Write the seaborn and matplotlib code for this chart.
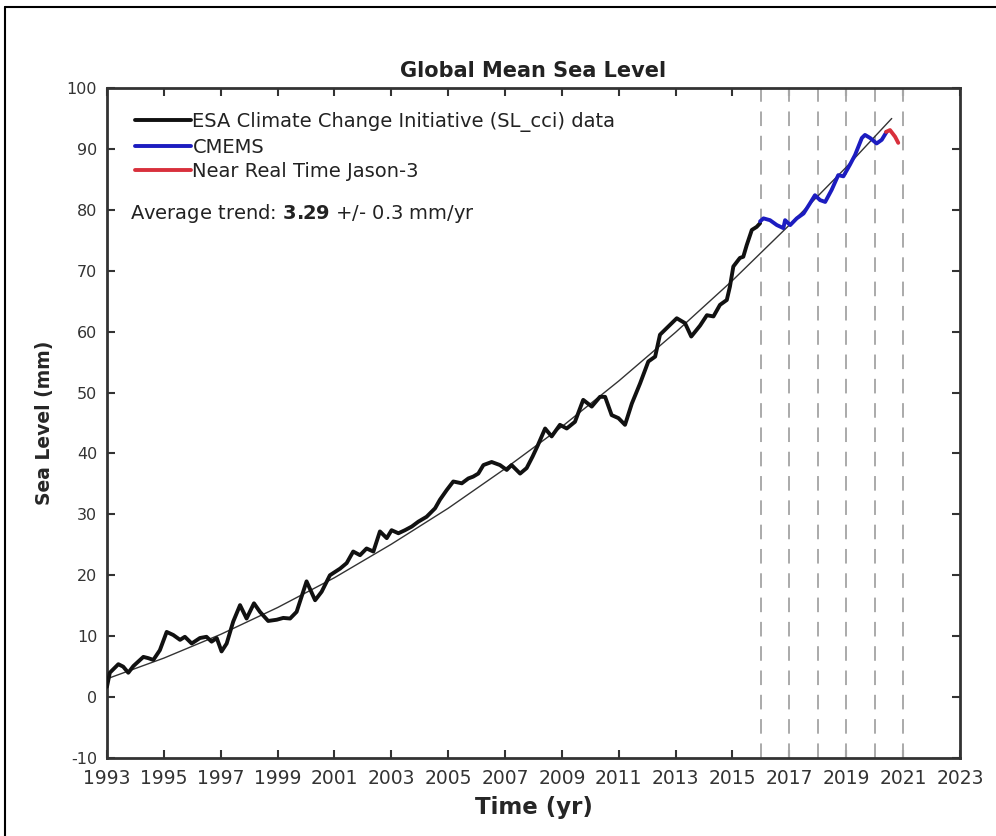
import pandas as pd
import matplotlib
matplotlib.use("Agg")
import matplotlib.pyplot as plt
import seaborn as sns
from matplotlib.lines import Line2D

# ESA CCI record
cci_year = [1993.00, 1993.10, 1993.40, 1993.57, 1993.75, 1993.93, 1994.28, 1994.45, 1994.63, 1994.86,
            1995.10, 1995.33, 1995.57, 1995.74, 1995.98, 1996.27, 1996.50, 1996.68, 1996.86, 1997.03,
            1997.21, 1997.44, 1997.68, 1997.91, 1998.17, 1998.38, 1998.67, 1998.97, 1999.20, 1999.44,
            1999.67, 2000.02, 2000.32, 2000.55, 2000.84, 2001.20, 2001.43, 2001.66, 2001.90, 2002.13,
            2002.37, 2002.60, 2002.84, 2003.01, 2003.25, 2003.48, 2003.72, 2003.95, 2004.24, 2004.54,
            2004.71, 2004.95, 2005.18, 2005.48, 2005.71, 2005.88, 2006.06, 2006.24, 2006.53, 2006.82,
            2007.06, 2007.23, 2007.53, 2007.76, 2007.97, 2008.15, 2008.41, 2008.64, 2008.93, 2009.17,
            2009.46, 2009.75, 2010.05, 2010.34, 2010.52, 2010.75, 2010.99, 2011.22, 2011.46, 2011.75,
            2012.04, 2012.28, 2012.45, 2012.69, 2013.04, 2013.33, 2013.55, 2013.86, 2014.10, 2014.33,
            2014.56, 2014.80, 2014.91, 2015.03, 2015.26, 2015.38, 2015.50, 2015.68, 2015.85, 2015.97]
cci_level = [1.7, 4.0, 5.4, 5.0, 4.0, 5.1, 6.6, 6.4, 6.1, 7.7,
             10.7, 10.2, 9.4, 9.9, 8.8, 9.7, 9.9, 9.1, 9.7, 7.5,
             8.8, 12.4, 15.1, 12.9, 15.4, 14.0, 12.5, 12.7, 13.0, 12.9,
             14.0, 19.0, 15.9, 17.3, 20.0, 21.1, 22.0, 23.9, 23.3, 24.4,
             23.9, 27.2, 26.1, 27.4, 26.9, 27.4, 28.0, 28.8, 29.6, 31.0,
             32.4, 34.0, 35.4, 35.1, 35.9, 36.2, 36.7, 38.1, 38.6, 38.1,
             37.3, 38.1, 36.7, 37.6, 39.5, 41.3, 44.1, 42.8, 44.7, 44.1,
             45.2, 48.8, 47.7, 49.3, 49.3, 46.3, 45.8, 44.7, 48.2, 51.5,
             55.1, 55.9, 59.5, 60.6, 62.2, 61.4, 59.2, 61.0, 62.7, 62.5,
             64.4, 65.2, 67.4, 70.7, 72.1, 72.3, 74.2, 76.7, 77.2, 77.8]

# CMEMS
cmems_year = [2015.97, 2016.09, 2016.32, 2016.56, 2016.79, 2016.85, 2017.03, 2017.26, 2017.50, 2017.73,
              2017.90, 2018.08, 2018.26, 2018.49, 2018.72, 2018.90, 2019.13, 2019.31, 2019.55, 2019.66,
              2019.84, 2020.07, 2020.25, 2020.42]
cmems_level = [78.1, 78.6, 78.3, 77.5, 77.0, 78.3, 77.5, 78.6, 79.4, 81.1,
               82.4, 81.6, 81.3, 83.3, 85.7, 85.5, 87.4, 89.0, 91.8, 92.3,
               91.8, 90.9, 91.5, 92.8]

# Near real time Jason-3
nrt_year = [2020.40, 2020.54, 2020.72, 2020.83]
nrt_level = [92.8, 93.1, 92.0, 91.0]

# fitted trend curve
trend_year = [1993, 1995, 1997, 1999, 2001, 2003, 2005, 2007, 2009, 2011, 2013, 2015, 2017, 2019, 2020.6]
trend_level = [3.0, 6.4, 10.3, 14.7, 19.6, 25.1, 31.0, 37.5, 44.4, 51.9, 59.9, 68.4, 77.5, 87.0, 95.0]

cycle_years = [2016, 2017, 2018, 2019, 2020, 2021]
x_ticks = list(range(1993, 2024, 2))
y_ticks = list(range(-10, 101, 10))

sns.set_style("ticks")
plt.rcParams['font.family'] = ['DejaVu Sans']
plt.rcParams['text.color'] = '#222222'
plt.rcParams['axes.unicode_minus'] = False

fig = plt.figure(figsize=(9.96, 8.36), dpi=100)
ax = fig.add_axes([0.1074, 0.0933, 0.8564, 0.8014])

for yr in cycle_years:
    ax.axvline(yr, color='#aaaaaa', lw=1.4, dashes=(7.5, 5), zorder=1)

trend = pd.DataFrame({'year': trend_year, 'level': trend_level})
sns.lineplot(data=trend, x='year', y='level', color='#333333', lw=1.0, ax=ax, zorder=2)

cci = pd.DataFrame({'year': cci_year, 'level': cci_level})
cmems = pd.DataFrame({'year': cmems_year, 'level': cmems_level})
nrt = pd.DataFrame({'year': nrt_year, 'level': nrt_level})
sns.lineplot(data=cci, x='year', y='level', color='#111111', lw=2.8, ax=ax, zorder=3,
             label='ESA Climate Change Initiative (SL_cci) data')
sns.lineplot(data=cmems, x='year', y='level', color='#1c1cc0', lw=2.8, ax=ax, zorder=3,
             label='CMEMS')
sns.lineplot(data=nrt, x='year', y='level', color='#d8303c', lw=2.8, ax=ax, zorder=3,
             label='Near Real Time Jason-3')

ax.set_xlim(1993, 2023)
ax.set_ylim(-10, 100)
ax.set_xticks(x_ticks)
ax.set_yticks(y_ticks)
ax.tick_params(direction='in', top=True, right=True, length=6, width=1.5,
               labelcolor='#333333', color='#333333')
ax.tick_params(axis='x', labelsize=13.5, pad=8)
ax.tick_params(axis='y', labelsize=11.5, pad=7)
for sp in ax.spines.values():
    sp.set_linewidth(2)
    sp.set_color('#333333')

ax.set_title('Global Mean Sea Level', fontsize=15, fontweight='bold', pad=8)
ax.set_xlabel('Time (yr)', fontsize=16.5, fontweight='bold', labelpad=6)
ax.set_ylabel('Sea Level (mm)', fontsize=13.5, fontweight='bold', labelpad=9)

handles, labels = ax.get_legend_handles_labels()
ax.legend(handles, labels, loc='upper left', bbox_to_anchor=(0.033, 0.964), frameon=False,
          fontsize=14, handlelength=2.85, handletextpad=0.1, labelspacing=0.28,
          borderpad=0, borderaxespad=0)

ax.text(0.027, 0.813, r'Average trend: $\mathbf{3.29}$ +/- 0.3 mm/yr', transform=ax.transAxes,
        fontsize=14, va='center', ha='left')

# outer frame of the picture
fig.add_artist(Line2D([5 / 996, 1], [1 - 7 / 836, 1 - 7 / 836], transform=fig.transFigure, color='k', lw=1.5))
fig.add_artist(Line2D([5 / 996, 5 / 996], [0, 1 - 7 / 836], transform=fig.transFigure, color='k', lw=1.5))

fig.savefig('out.png', dpi=100)
